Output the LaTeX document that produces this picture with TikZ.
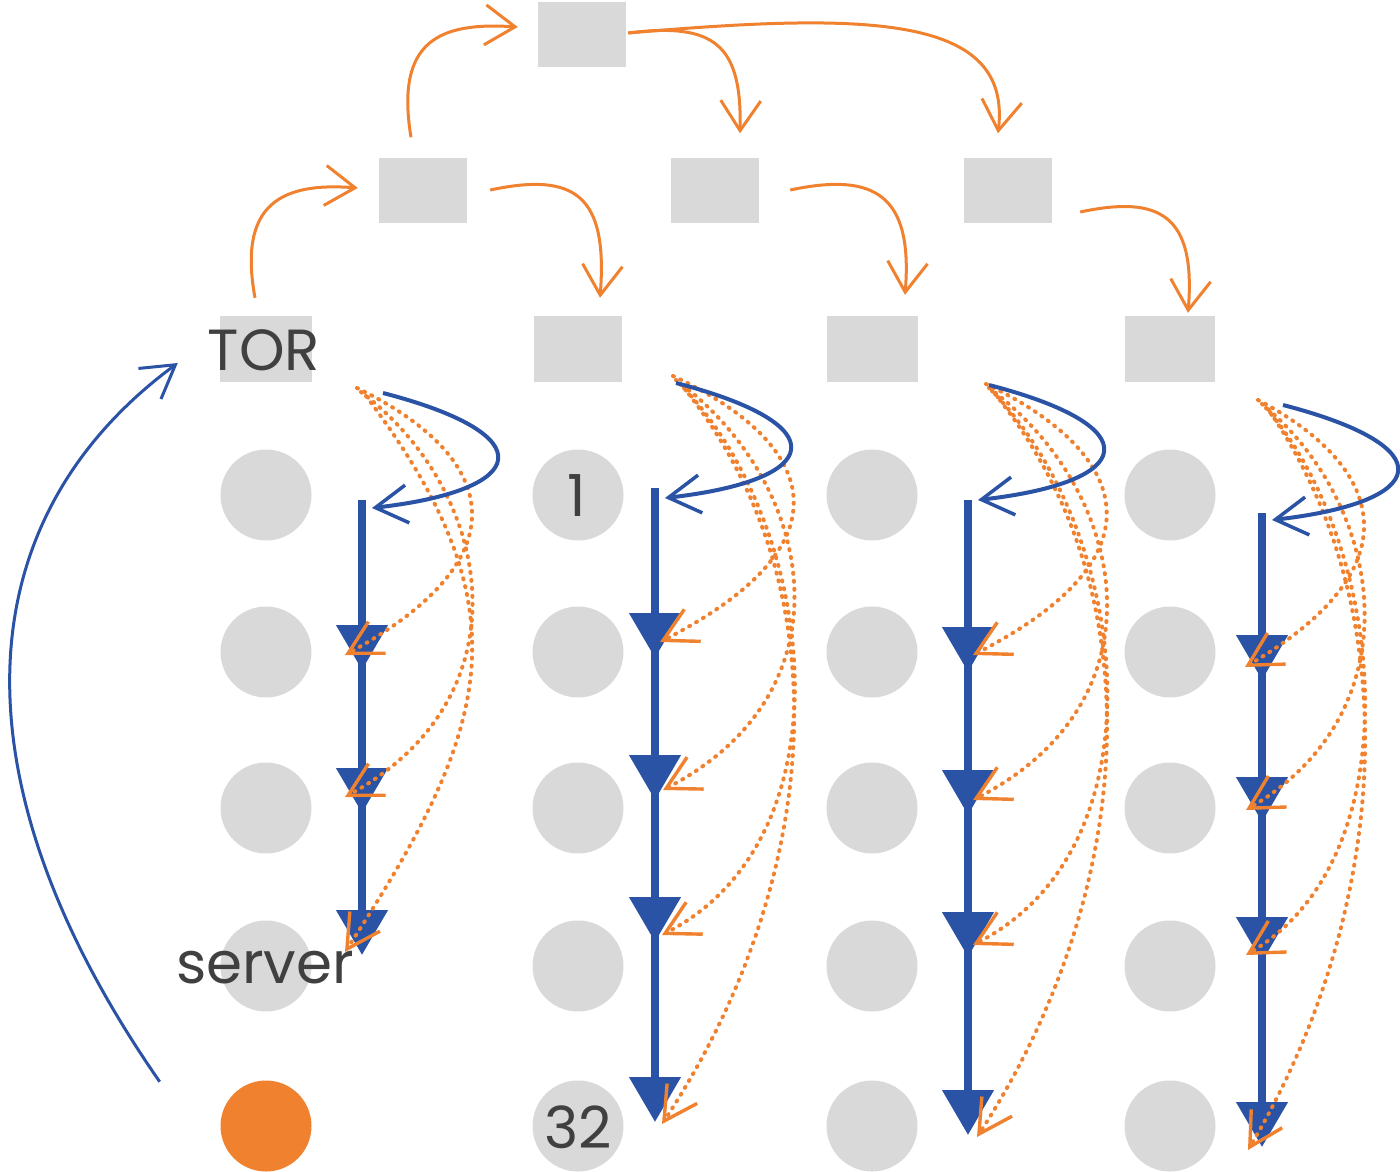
\documentclass[tikz,border=0pt]{standalone}
\usepackage{fontspec}
\setmainfont{Poppins}
\usetikzlibrary{arrows.meta,calc}
\definecolor{boxgray}{HTML}{D9D9D9}
\definecolor{org}{HTML}{F0812F}
\definecolor{blu}{HTML}{2A52A5}
\definecolor{txt}{HTML}{404040}
\newcommand\ocmid[6]{\draw[odot] (#3,#4) .. controls ({#1+160*#2},{#4+0.25*(#6-#4)}) and ({#1+200*#2},{#6-100}) .. (#5,#6);}
\newcommand\oclast[6]{\draw[odot] (#3,#4) .. controls ({#1+200*#2},{#4+215}) and ({#1+155*#2},{#6-224}) .. (#5,#6);}
\newcommand\bloop[2]{\draw[bcurve] ({#1+21},#2) .. controls ({#1+183},{#2+42}) and ({#1+168},{#2+97}) .. ({#1+10},{#2+115});}
\begin{document}
\begin{tikzpicture}[x=1pt,y=-1pt,
  sw/.style={fill=boxgray, draw=none, minimum width=88pt, minimum height=65pt, inner sep=0pt},
  srv/.style={circle, fill=boxgray, minimum size=91pt, inner sep=0pt},
  lbl/.style={text=txt, font=\fontsize{58}{58}\selectfont, inner sep=0pt},
  tree/.style={draw=org, line width=3pt, -{Straight Barb[length=30pt,width=40pt,line width=3pt]}},
  odot/.style={draw=org, line width=4pt, line cap=round, dash pattern=on 1pt off 7pt, -{Straight Barb[length=33pt,width=36pt,line width=3.4pt]}},
  bplain/.style={draw=blu, line width=8pt},
  bline/.style={draw=blu, line width=8pt, -{Triangle[length=45pt,width=50pt]}},
  bcurve/.style={draw=blu, line width=4pt, -{Straight Barb[length=32pt,width=38pt,line width=3.5pt]}},
  bbig/.style={draw=blu, line width=3pt, -{Straight Barb[length=32pt,width=38pt,line width=3pt]}}
]
\useasboundingbox (0,0) rectangle (1400,1172);
% switches
\node[sw] (core) at (582,35) {};
\node[sw] (agg1) at (423,190) {};
\node[sw] (agg2) at (715,190) {};
\node[sw] (agg3) at (1008,190) {};
\node[sw, minimum width=92pt, minimum height=66pt] (tor1) at (266,349) {};
\node[sw, minimum width=88pt, minimum height=66pt] (tor2) at (578,349) {};
\node[sw, minimum width=91pt, minimum height=66pt] (tor3) at (872,349) {};
\node[sw, minimum width=90pt, minimum height=66pt] (tor4) at (1170,349) {};
\node[lbl] (torlabel) at (264,350) {TOR};
% servers
\foreach \r/\y in {1/495,2/652,3/808,4/966}
  \node[srv] (s1\r) at (266,\y) {};
\node[srv, fill=org] (s15) at (266,1126) {};
\foreach \c/\x in {2/578,3/872,4/1170}
  \foreach \r/\y in {1/495,2/652,3/808,4/966,5/1126}
    \node[srv] (s\c\r) at (\x,\y) {};
\node[lbl] (srvlabel) at (265,968) {server};
\node[lbl] (first) at (577,496) {1};
\node[lbl] (last) at (578,1127) {32};
% tree (orange solid)
\draw[tree] ($(tor1.north)+(-11,-18)$) .. controls (238,205) and (280,182) .. ($(agg1.west)+(-21,-2)$);
\draw[tree] ($(agg1.north)+(-12,-20)$) .. controls (395,40) and (440,22) .. ($(core.west)+(-20,-8)$);
\draw[tree] ($(core.east)+(2,-2)$) .. controls (715,22) and (742,45) .. ($(agg2.north)+(25,-24)$);
\draw[tree] ($(core.east)+(2,-2)$) .. controls (870,12) and (1012,15) .. ($(agg3.north)+(-10,-24)$);
\draw[tree] ($(agg1.east)+(23,0)$) .. controls (575,172) and (608,195) .. ($(tor2.north)+(22,-18)$);
\draw[tree] ($(agg2.east)+(31,0)$) .. controls (875,172) and (913,195) .. ($(tor3.north)+(33,-21)$);
\draw[tree] ($(agg3.east)+(28,22)$) .. controls (1160,195) and (1196,215) .. ($(tor4.north)+(18,-3)$);
% blue chains
\coordinate (c1top) at (362,500);
\draw[bplain] (c1top) -- (362,935);
\draw[bline] (c1top) -- (362,670);
\draw[bline] (362,670) -- (362,813);
\draw[bline] (362,813) -- (362,955);
\coordinate (c2top) at (655,488);
\draw[bplain] (c2top) -- (655,1100);
\draw[bline] (c2top) -- (655,658);
\draw[bline] (655,658) -- (655,800);
\draw[bline] (655,800) -- (655,942);
\draw[bline] (655,942) -- (655,1122);
\coordinate (c3top) at (968,500);
\draw[bplain] (c3top) -- (968,1113);
\draw[bline] (c3top) -- (968,672);
\draw[bline] (968,672) -- (968,815);
\draw[bline] (968,815) -- (968,957);
\draw[bline] (968,957) -- (968,1135);
\coordinate (c4top) at (1262,513);
\draw[bplain] (c4top) -- (1262,1125);
\draw[bline] (c4top) -- (1262,680);
\draw[bline] (1262,680) -- (1262,822);
\draw[bline] (1262,822) -- (1262,962);
\draw[bline] (1262,962) -- (1262,1147);
% orange dotted
\ocmid{362}{0.83}{357}{388}{345}{655}
\ocmid{362}{0.83}{361}{392}{345}{797}
\oclast{362}{0.83}{366}{396}{345}{952}
\ocmid{655}{1.0}{673}{376}{660}{642}
\ocmid{655}{1.0}{676}{380}{663}{790}
\ocmid{655}{1.0}{680}{384}{662}{935}
\oclast{655}{1.0}{684}{388}{662}{1124}
\ocmid{968}{1.0}{986}{384}{973}{655}
\ocmid{968}{1.0}{989}{388}{973}{800}
\ocmid{968}{1.0}{992}{391}{973}{945}
\oclast{968}{1.0}{995}{394}{977}{1137}
\ocmid{1262}{0.77}{1258}{400}{1245}{667}
\ocmid{1262}{0.77}{1262}{404}{1246}{810}
\ocmid{1262}{0.77}{1266}{408}{1246}{955}
\oclast{1262}{0.77}{1270}{412}{1248}{1150}
% blue loops
\bloop{362}{393}
\bloop{655}{383}
\bloop{968}{385}
\bloop{1262}{405}
% big blue return
\draw[bbig] ($(s15.north west)+(-74,-12)$) .. controls (-50,780) and (-35,520) .. ($(tor1.west)+(-42,14)$);
\end{tikzpicture}
\end{document}
